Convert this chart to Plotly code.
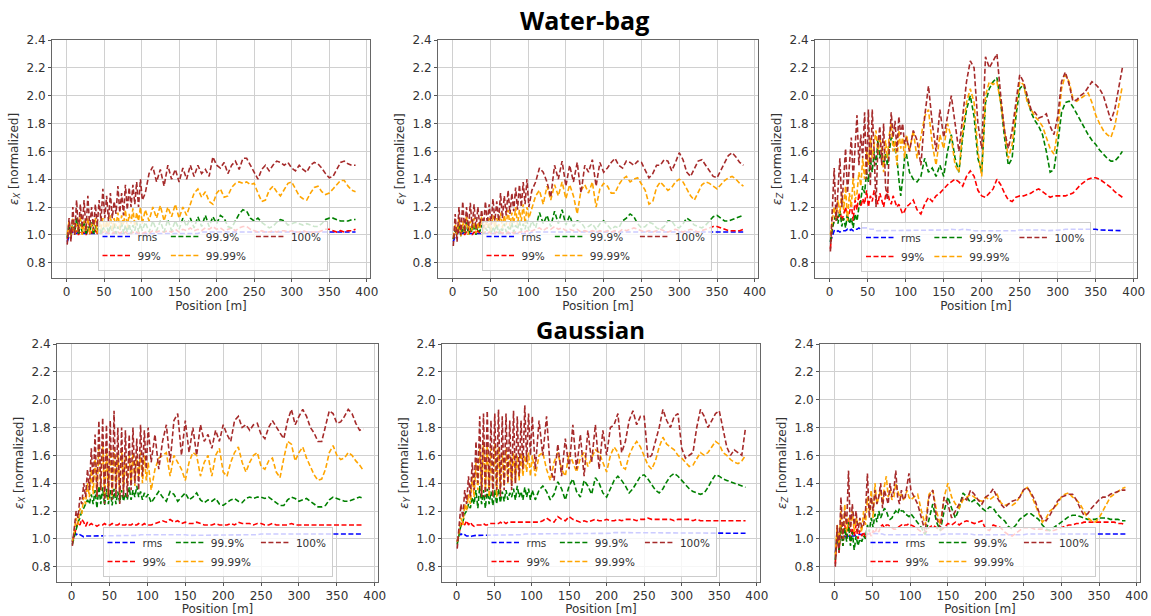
import plotly.graph_objects as go

# ---------------- data ----------------
POSITION = [1, 3.5, 6, 8.5, 11, 13.5, 16, 18.5, 21, 23.5,
            26, 28.5, 31, 33.5, 36, 38.5, 41, 43.5, 46, 48.5,
            51, 53.5, 56, 58.5, 61, 63.5, 66, 68.5, 71, 73.5,
            76, 78.5, 81, 83.5, 86, 88.5, 91, 93.5, 96, 98.5,
            101,
            105, 110, 115, 120, 125, 130, 135, 140, 145, 150,
            155, 160, 165, 170, 175, 180, 185, 190, 195, 200,
            205, 210, 215, 220, 225, 230, 235, 240, 245, 250,
            255, 260, 265, 270, 275, 280, 285, 290, 295, 300,
            305, 310, 315, 320, 325, 330, 335, 340, 345, 350,
            355, 360, 365, 370, 375, 380, 385]

SERIES_NAMES = ["rms", "99%", "99.9%", "99.99%", "100%"]
X_TICKS = [0, 50, 100, 150, 200, 250, 300, 350, 400]
Y_TICKS = [0.8, 1.0, 1.2, 1.4, 1.6, 1.8, 2.0, 2.2, 2.4]
ROW_TITLES = ["Water-bag", "Gaussian"]

# ---- Water-bag, eps_X ----
WB_X_RMS = [0.95, 0.99, 1.01, 1.02, 1.01, 1.01, 1.02, 1.01, 1.01, 1.01,
            1.01, 1.01, 1.01, 1.01, 1.01, 1.01, 1.01, 1.01, 1.01, 1.01,
            1.01, 1.01, 1.01, 1.01, 1.01, 1.01, 1.01, 1.01, 1.01, 1.01,
            1.01, 1.01, 1.01, 1.01, 1.01, 1.01, 1.01, 1.01, 1.01, 1.01,
            1.01,
            1.01, 1.01, 1.01, 1.01, 1.01, 1.01, 1.01, 1.01, 1.01, 1.01,
            1.01, 1.01, 1.01, 1.01, 1.01, 1.02, 1.02, 1.02, 1.02, 1.02,
            1.02, 1.02, 1.02, 1.02, 1.02, 1.02, 1.02, 1.02, 1.02, 1.02,
            1.02, 1.02, 1.02, 1.02, 1.02, 1.02, 1.02, 1.02, 1.02, 1.02,
            1.02, 1.02, 1.02, 1.02, 1.02, 1.02, 1.02, 1.02, 1.02, 1.02,
            1.02, 1.02, 1.02, 1.02, 1.02, 1.02, 1.02]
WB_X_99 = [0.97, 1.03, 1.0, 1.04, 1.01, 1.03, 1.0, 1.03, 1.01, 1.02,
           1.0, 1.03, 1.01, 1.02, 1.01, 1.03, 1.01, 1.02, 1.01, 1.02,
           1.01, 1.02, 1.01, 1.02, 1.01, 1.02, 1.01, 1.02, 1.01, 1.02,
           1.01, 1.02, 1.01, 1.02, 1.01, 1.02, 1.01, 1.02, 1.01, 1.02,
           1.01,
           1.02, 1.01, 1.03, 1.02, 1.03, 1.02, 1.03, 1.02, 1.04, 1.02,
           1.04, 1.03, 1.05, 1.03, 1.04, 1.03, 1.05, 1.04, 1.06, 1.04,
           1.05, 1.03, 1.04, 1.05, 1.03, 1.05, 1.06, 1.06, 1.04, 1.03,
           1.02, 1.03, 1.02, 1.02, 1.03, 1.02, 1.03, 1.03, 1.02, 1.03,
           1.02, 1.02, 1.03, 1.02, 1.02, 1.02, 1.02, 1.03, 1.04, 1.04,
           1.03, 1.02, 1.03, 1.02, 1.03, 1.03, 1.04]
WB_X_999 = [0.98, 1.08, 1.0, 1.1, 1.02, 1.12, 1.0, 1.08, 1.02, 1.1,
            1.0, 1.06, 1.02, 1.09, 1.0, 1.07, 1.02, 1.08, 1.0, 1.06,
            1.03, 1.08, 1.01, 1.07, 1.02, 1.08, 1.01, 1.06, 1.03, 1.09,
            1.01, 1.07, 1.02, 1.08, 1.01, 1.07, 1.03, 1.09, 1.02, 1.08,
            1.03,
            1.09, 1.02, 1.1, 1.03, 1.1, 1.02, 1.11, 1.03, 1.1, 1.04,
            1.12, 1.06, 1.12, 1.05, 1.13, 1.06, 1.14, 1.06, 1.13, 1.08,
            1.14, 1.12, 1.06, 1.05, 1.1, 1.15, 1.18, 1.17, 1.12, 1.1,
            1.12, 1.09, 1.07, 1.05, 1.06, 1.09, 1.11, 1.1, 1.07, 1.08,
            1.09, 1.08, 1.07, 1.08, 1.07, 1.06, 1.06, 1.08, 1.11, 1.12,
            1.12, 1.11, 1.1, 1.1, 1.1, 1.11, 1.11]
WB_X_9999 = [1.0, 1.1, 0.98, 1.12, 1.0, 1.08, 1.02, 1.14, 1.0, 1.1,
             1.02, 1.12, 1.0, 1.08, 1.03, 1.12, 1.01, 1.1, 1.04, 1.12,
             1.02, 1.1, 1.05, 1.14, 1.03, 1.12, 1.06, 1.16, 1.04, 1.14,
             1.07, 1.18, 1.05, 1.15, 1.08, 1.19, 1.06, 1.16, 1.1, 1.2,
             1.08,
             1.18, 1.1, 1.2, 1.12, 1.21, 1.1, 1.2, 1.13, 1.22, 1.12,
             1.2, 1.14, 1.22, 1.3, 1.33, 1.27, 1.31, 1.24, 1.22, 1.3,
             1.33, 1.27, 1.28, 1.34, 1.37, 1.38, 1.37, 1.38, 1.36, 1.37,
             1.3, 1.24, 1.25, 1.32, 1.35, 1.31, 1.28, 1.33, 1.37, 1.38,
             1.33, 1.28, 1.26, 1.25, 1.3, 1.34, 1.35, 1.31, 1.29, 1.3,
             1.33, 1.36, 1.39, 1.39, 1.35, 1.32, 1.31]
WB_X_100 = [0.93, 1.12, 0.95, 1.2, 1.0, 1.25, 1.02, 1.22, 1.05, 1.25,
            1.03, 1.28, 1.05, 1.2, 1.04, 1.22, 1.06, 1.25, 1.1, 1.33,
            1.12, 1.28, 1.1, 1.3, 1.12, 1.24, 1.15, 1.35, 1.16, 1.3,
            1.14, 1.36, 1.18, 1.34, 1.2, 1.36, 1.22, 1.38, 1.2, 1.4,
            1.25,
            1.3, 1.44, 1.49, 1.38, 1.47, 1.35, 1.5, 1.4, 1.47, 1.38,
            1.48, 1.4, 1.5, 1.42, 1.5, 1.44, 1.47, 1.42, 1.56, 1.5,
            1.48, 1.52, 1.44, 1.5, 1.53, 1.47, 1.55, 1.55, 1.5, 1.46,
            1.4, 1.47, 1.5, 1.46, 1.5, 1.53, 1.52, 1.5, 1.52, 1.48,
            1.46, 1.5, 1.47, 1.45, 1.5, 1.52, 1.51, 1.48, 1.44, 1.41,
            1.42, 1.47, 1.52, 1.53, 1.51, 1.5, 1.5]

# ---- Water-bag, eps_Y ----
WB_Y_RMS = [0.95, 0.99, 1.01, 1.02, 1.01, 1.01, 1.02, 1.01, 1.01, 1.01,
            1.01, 1.01, 1.01, 1.01, 1.01, 1.01, 1.01, 1.01, 1.01, 1.01,
            1.01, 1.01, 1.01, 1.01, 1.01, 1.01, 1.01, 1.01, 1.01, 1.01,
            1.01, 1.01, 1.01, 1.01, 1.01, 1.01, 1.01, 1.01, 1.01, 1.01,
            1.01,
            1.02, 1.02, 1.02, 1.02, 1.02, 1.02, 1.02, 1.02, 1.02, 1.02,
            1.02, 1.02, 1.02, 1.02, 1.02, 1.02, 1.02, 1.02, 1.02, 1.02,
            1.02, 1.02, 1.02, 1.02, 1.02, 1.02, 1.02, 1.02, 1.02, 1.02,
            1.02, 1.02, 1.02, 1.02, 1.02, 1.02, 1.02, 1.02, 1.02, 1.02,
            1.02, 1.02, 1.02, 1.02, 1.02, 1.02, 1.02, 1.02, 1.02, 1.02,
            1.02, 1.02, 1.02, 1.02, 1.02, 1.02, 1.02]
WB_Y_99 = [0.97, 1.03, 1.0, 1.04, 1.01, 1.03, 1.0, 1.02, 1.01, 1.03,
           1.0, 1.02, 1.01, 1.03, 1.01, 1.02, 1.01, 1.02, 1.01, 1.02,
           1.01, 1.02, 1.01, 1.02, 1.01, 1.02, 1.01, 1.02, 1.01, 1.02,
           1.01, 1.02, 1.01, 1.02, 1.01, 1.02, 1.02, 1.03, 1.02, 1.03,
           1.02,
           1.03, 1.04, 1.05, 1.03, 1.05, 1.04, 1.06, 1.04, 1.05, 1.03,
           1.04, 1.03, 1.04, 1.02, 1.03, 1.02, 1.03, 1.02, 1.03, 1.02,
           1.03, 1.02, 1.03, 1.02, 1.04, 1.03, 1.04, 1.05, 1.04, 1.03,
           1.02, 1.03, 1.02, 1.03, 1.04, 1.03, 1.02, 1.03, 1.04, 1.03,
           1.02, 1.03, 1.04, 1.03, 1.02, 1.03, 1.04, 1.05, 1.06, 1.06,
           1.05, 1.04, 1.03, 1.03, 1.03, 1.03, 1.04]
WB_Y_999 = [0.97, 1.05, 1.0, 1.08, 0.99, 1.06, 1.01, 1.09, 1.0, 1.05,
            1.02, 1.08, 1.0, 1.06, 1.02, 1.07, 1.01, 1.05, 1.03, 1.08,
            1.01, 1.06, 1.02, 1.08, 1.01, 1.05, 1.03, 1.08, 1.02, 1.06,
            1.03, 1.09, 1.02, 1.07, 1.04, 1.1, 1.03, 1.08, 1.04, 1.1,
            1.03,
            1.1, 1.05, 1.16, 1.08, 1.14, 1.06, 1.17, 1.08, 1.18, 1.07,
            1.14, 1.06, 1.1, 1.09, 1.05, 1.06, 1.08, 1.04, 1.08, 1.1,
            1.07, 1.04, 1.06, 1.05, 1.1, 1.12, 1.15, 1.13, 1.08, 1.05,
            1.06, 1.09, 1.08, 1.05, 1.04, 1.06, 1.1, 1.1, 1.06, 1.05,
            1.08, 1.12, 1.1, 1.07, 1.06, 1.05, 1.07, 1.1, 1.13, 1.14,
            1.12, 1.1, 1.1, 1.11, 1.12, 1.13, 1.14]
WB_Y_9999 = [0.98, 1.08, 1.0, 1.12, 0.99, 1.1, 1.02, 1.14, 1.0, 1.1,
             1.03, 1.12, 1.01, 1.09, 1.04, 1.13, 1.02, 1.1, 1.05, 1.12,
             1.03, 1.14, 1.05, 1.12, 1.06, 1.16, 1.05, 1.14, 1.07, 1.18,
             1.06, 1.16, 1.08, 1.2, 1.07, 1.18, 1.1, 1.22, 1.08, 1.2,
             1.12,
             1.2, 1.28, 1.32, 1.22, 1.35, 1.25, 1.36, 1.28, 1.38, 1.26,
             1.36, 1.28, 1.15, 1.32, 1.36, 1.3, 1.38, 1.2, 1.33, 1.37,
             1.35, 1.3, 1.3, 1.36, 1.4, 1.42, 1.38, 1.4, 1.41, 1.36,
             1.32, 1.22, 1.24, 1.34, 1.38, 1.35, 1.32, 1.34, 1.38, 1.4,
             1.38, 1.33, 1.28, 1.25, 1.3, 1.36, 1.38, 1.37, 1.35, 1.33,
             1.36, 1.39, 1.41, 1.42, 1.4, 1.37, 1.35]
WB_Y_100 = [0.92, 1.15, 0.95, 1.2, 1.0, 1.24, 1.02, 1.2, 1.03, 1.23,
            1.05, 1.22, 1.04, 1.2, 1.06, 1.18, 1.05, 1.24, 1.08, 1.22,
            1.07, 1.26, 1.1, 1.24, 1.1, 1.3, 1.12, 1.28, 1.14, 1.32,
            1.15, 1.3, 1.17, 1.34, 1.18, 1.36, 1.2, 1.38, 1.22, 1.4,
            1.2,
            1.32, 1.38, 1.48, 1.45, 1.38, 1.27, 1.5, 1.4, 1.53, 1.35,
            1.5, 1.38, 1.52, 1.3, 1.5, 1.45, 1.54, 1.35, 1.52, 1.45,
            1.48, 1.52, 1.55, 1.5, 1.48, 1.53, 1.52, 1.5, 1.53, 1.52,
            1.46, 1.41, 1.44, 1.5, 1.5, 1.54, 1.53, 1.46, 1.52, 1.59,
            1.54, 1.45, 1.42, 1.47, 1.53, 1.54, 1.5, 1.46, 1.42, 1.41,
            1.46, 1.52, 1.57, 1.59, 1.56, 1.52, 1.5]

# ---- Water-bag, eps_Z ----
WB_Z_RMS = [0.95, 1.0, 1.03, 1.02, 1.03, 1.02, 1.03, 1.03, 1.03, 1.04,
            1.03, 1.04, 1.03, 1.04, 1.04, 1.05, 1.04, 1.05, 1.05, 1.05,
            1.05, 1.04, 1.04, 1.04, 1.03, 1.03, 1.03, 1.03, 1.03, 1.03,
            1.03, 1.03, 1.03, 1.03, 1.03, 1.03, 1.03, 1.03, 1.03, 1.03,
            1.03,
            1.03, 1.03, 1.03, 1.03, 1.03, 1.03, 1.03, 1.03, 1.035, 1.035,
            1.035, 1.04, 1.035, 1.035, 1.04, 1.04, 1.035, 1.03, 1.03, 1.025,
            1.03, 1.03, 1.03, 1.03, 1.03, 1.025, 1.03, 1.03, 1.03, 1.035,
            1.035, 1.04, 1.04, 1.04, 1.035, 1.035, 1.03, 1.03, 1.03, 1.035,
            1.035, 1.04, 1.04, 1.04, 1.045, 1.045, 1.045, 1.04, 1.04, 1.04,
            1.035, 1.035, 1.03, 1.03, 1.03, 1.03, 1.03]
WB_Z_99 = [0.9, 1.05, 1.1, 1.15, 1.12, 1.18, 1.1, 1.15, 1.2, 1.12,
           1.16, 1.22, 1.1, 1.25, 1.18, 1.3, 1.2, 1.26, 1.22, 1.32,
           1.2, 1.28, 1.24, 1.32, 1.26, 1.22, 1.3, 1.25, 1.2, 1.28,
           1.32, 1.25, 1.22, 1.28, 1.24, 1.2, 1.22, 1.18, 1.15, 1.17,
           1.2,
           1.22, 1.25, 1.18, 1.15, 1.22, 1.27, 1.24, 1.28, 1.3, 1.33,
           1.36, 1.38, 1.4, 1.38, 1.35, 1.42, 1.46, 1.42, 1.32, 1.28,
           1.27, 1.3, 1.33, 1.4, 1.36, 1.3, 1.25, 1.24, 1.27, 1.28,
           1.28, 1.29, 1.3, 1.32, 1.33, 1.31, 1.29, 1.27, 1.28, 1.28,
           1.28, 1.28, 1.29, 1.3, 1.33, 1.36, 1.38, 1.4, 1.41, 1.41,
           1.4, 1.38, 1.36, 1.34, 1.31, 1.29, 1.27]
WB_Z_999 = [0.95, 1.05, 1.1, 1.15, 1.08, 1.18, 1.06, 1.12, 1.05, 1.15,
            1.08, 1.12, 1.05, 1.15, 1.1, 1.2, 1.25, 1.35, 1.3, 1.45,
            1.38, 1.55, 1.45, 1.6, 1.5, 1.68, 1.55, 1.62, 1.5, 1.58,
            1.5, 1.6, 1.7, 1.68, 1.62, 1.55, 1.4, 1.28, 1.4, 1.55,
            1.58,
            1.45, 1.4, 1.38, 1.42, 1.55, 1.45, 1.48, 1.42, 1.5, 1.42,
            1.6, 1.72, 1.55, 1.45, 1.7, 1.9, 2.0, 1.85, 1.55, 1.45,
            1.95, 2.05, 2.1, 2.13, 1.95, 1.7, 1.5, 1.55, 1.85, 2.05,
            2.08, 1.98, 1.88, 1.82, 1.78, 1.72, 1.6, 1.45, 1.47, 1.65,
            1.88, 1.95, 1.96, 1.92, 1.87, 1.82, 1.76, 1.72, 1.68, 1.65,
            1.61, 1.58, 1.55, 1.53, 1.53, 1.56, 1.6]
WB_Z_9999 = [1.0, 1.1, 1.2, 1.12, 1.25, 1.15, 1.3, 1.18, 1.35, 1.1,
             1.3, 1.2, 1.42, 1.25, 1.3, 1.45, 1.35, 1.55, 1.4, 1.6,
             1.5, 1.7, 1.55, 1.65, 1.75, 1.58, 1.7, 1.62, 1.45, 1.68,
             1.55, 1.72, 1.8, 1.6, 1.68, 1.5, 1.75, 1.62, 1.7, 1.55,
             1.72,
             1.6, 1.75, 1.55, 1.7, 1.85, 1.9, 1.65, 1.5, 1.72, 1.62,
             1.8, 1.7, 1.5, 1.45, 1.75, 1.95, 2.05, 1.95, 1.6, 1.42,
             2.0, 2.1, 2.08, 2.1, 1.95, 1.75, 1.55, 1.65, 1.9, 2.1,
             2.08, 1.95, 1.9, 1.85, 1.82, 1.78, 1.7, 1.62, 1.58, 1.75,
             2.05, 2.15, 2.1, 1.98, 1.96, 1.98, 2.0, 2.02, 1.95, 1.86,
             1.8, 1.75, 1.72, 1.7, 1.78, 1.92, 2.07]
WB_Z_100 = [0.88, 1.2, 1.48, 1.1, 1.35, 1.55, 1.2, 1.45, 1.62, 1.3,
            1.5, 1.7, 1.4, 1.65, 1.86, 1.5, 1.72, 1.55, 1.88, 1.4,
            1.9, 1.35, 1.9, 1.6, 1.2, 1.65, 1.78, 1.5, 1.8, 1.35,
            1.25, 1.65, 1.88, 1.7, 1.82, 1.6, 1.85, 1.72, 1.8, 1.65,
            1.7,
            1.6, 1.75, 1.68, 1.5, 1.85, 2.07, 1.8, 1.6, 1.9, 1.7,
            1.85, 2.0, 1.8, 1.6, 1.85, 2.1, 2.25, 2.2, 1.8, 1.62,
            2.28, 2.2, 2.25, 2.3, 2.0, 1.75, 1.62, 1.75, 1.95, 2.15,
            2.1, 2.0, 1.9, 1.88, 1.84, 1.85, 1.87, 1.78, 1.72, 1.85,
            2.1, 2.17, 2.08, 1.96, 1.97, 2.0, 2.02, 2.06, 2.1, 2.08,
            2.05, 2.0, 1.9, 1.82, 1.9, 2.05, 2.2]

# ---- Gaussian, eps_X ----
GA_X_RMS = [0.98, 1.04, 1.03, 1.04, 1.03, 1.02, 1.015, 1.02, 1.02, 1.025,
            1.025, 1.025, 1.025, 1.025, 1.025, 1.025, 1.025, 1.025, 1.025, 1.025,
            1.025, 1.025, 1.025, 1.025, 1.025, 1.025, 1.025, 1.025, 1.025, 1.025,
            1.025, 1.025, 1.025, 1.025, 1.025, 1.025, 1.03, 1.03, 1.03, 1.03,
            1.03,
            1.03, 1.03, 1.03, 1.035, 1.035, 1.035, 1.03, 1.03, 1.03, 1.03,
            1.025, 1.025, 1.025, 1.025, 1.025, 1.025, 1.03, 1.03, 1.03, 1.03,
            1.03, 1.03, 1.03, 1.03, 1.03, 1.03, 1.03, 1.03, 1.03, 1.035,
            1.035, 1.035, 1.03, 1.03, 1.03, 1.03, 1.03, 1.03, 1.03, 1.03,
            1.03, 1.03, 1.03, 1.03, 1.03, 1.03, 1.03, 1.03, 1.03, 1.03,
            1.035, 1.035, 1.035, 1.035, 1.035, 1.035, 1.035]
GA_X_99 = [0.98, 1.02, 1.08, 1.12, 1.1, 1.14, 1.12, 1.09, 1.12, 1.1,
           1.11, 1.1, 1.1, 1.09, 1.1, 1.1, 1.1, 1.11, 1.1, 1.1,
           1.1, 1.11, 1.1, 1.1, 1.1, 1.11, 1.1, 1.1, 1.1, 1.11,
           1.1, 1.1, 1.11, 1.1, 1.1, 1.11, 1.1, 1.1, 1.11, 1.1,
           1.1,
           1.1, 1.11, 1.12, 1.13, 1.12, 1.14, 1.12, 1.13, 1.11, 1.12,
           1.11, 1.11, 1.12, 1.11, 1.1, 1.1, 1.1, 1.11, 1.1, 1.1,
           1.1, 1.11, 1.1, 1.12, 1.11, 1.11, 1.11, 1.1, 1.11, 1.11,
           1.1, 1.1, 1.11, 1.1, 1.1, 1.1, 1.1, 1.11, 1.1, 1.1,
           1.1, 1.1, 1.1, 1.1, 1.1, 1.1, 1.1, 1.1, 1.1, 1.1,
           1.1, 1.1, 1.1, 1.1, 1.1, 1.1, 1.1]
GA_X_999 = [0.96, 1.02, 1.08, 1.12, 1.15, 1.2, 1.22, 1.25, 1.28, 1.25,
            1.32, 1.25, 1.35, 1.22, 1.38, 1.25, 1.37, 1.24, 1.36, 1.25,
            1.35, 1.24, 1.36, 1.25, 1.34, 1.26, 1.35, 1.27, 1.33, 1.28,
            1.37, 1.28, 1.35, 1.3, 1.38, 1.3, 1.34, 1.28, 1.33, 1.3,
            1.32,
            1.26, 1.3, 1.34, 1.3, 1.27, 1.34, 1.32, 1.27, 1.3, 1.33,
            1.28, 1.3, 1.33, 1.28, 1.26, 1.28, 1.27, 1.29, 1.25, 1.24,
            1.26, 1.28, 1.29, 1.27, 1.26, 1.29, 1.3, 1.29, 1.3, 1.3,
            1.29, 1.3, 1.28, 1.26, 1.24, 1.24, 1.28, 1.3, 1.29, 1.27,
            1.28, 1.29, 1.27, 1.25, 1.23, 1.23, 1.24, 1.28, 1.3, 1.29,
            1.28, 1.27, 1.27, 1.28, 1.29, 1.3, 1.29]
GA_X_9999 = [0.98, 1.05, 1.15, 1.1, 1.22, 1.18, 1.3, 1.25, 1.4, 1.3,
             1.5, 1.32, 1.6, 1.3, 1.68, 1.35, 1.7, 1.3, 1.65, 1.28,
             1.68, 1.3, 1.65, 1.35, 1.62, 1.32, 1.65, 1.35, 1.6, 1.38,
             1.6, 1.4, 1.62, 1.38, 1.6, 1.45, 1.62, 1.4, 1.6, 1.42,
             1.55,
             1.35, 1.5, 1.58, 1.6, 1.62, 1.45, 1.6, 1.55, 1.5, 1.42,
             1.55, 1.62, 1.6, 1.45, 1.55, 1.6, 1.45, 1.6, 1.65, 1.48,
             1.45, 1.55, 1.62, 1.66, 1.55, 1.48, 1.55, 1.6, 1.62, 1.52,
             1.5, 1.56, 1.58, 1.48, 1.44, 1.58, 1.7, 1.68, 1.56, 1.62,
             1.66, 1.58, 1.52, 1.46, 1.42, 1.43, 1.5, 1.62, 1.67, 1.6,
             1.57, 1.58, 1.62, 1.6, 1.56, 1.53, 1.49]
GA_X_100 = [0.95, 1.1, 1.2, 1.15, 1.3, 1.25, 1.4, 1.3, 1.5, 1.35,
            1.65, 1.4, 1.75, 1.3, 1.85, 1.35, 1.87, 1.25, 1.82, 1.3,
            1.85, 1.28, 1.92, 1.3, 1.8, 1.25, 1.8, 1.3, 1.78, 1.3,
            1.75, 1.35, 1.8, 1.4, 1.72, 1.35, 1.82, 1.45, 1.78, 1.5,
            1.8,
            1.55, 1.75, 1.5, 1.7, 1.82, 1.55, 1.85, 1.9, 1.6, 1.85,
            1.62, 1.8, 1.6, 1.82, 1.7, 1.75, 1.65, 1.78, 1.7, 1.82,
            1.75, 1.7, 1.85, 1.88, 1.8, 1.82, 1.78, 1.82, 1.83, 1.75,
            1.72, 1.8, 1.85, 1.8, 1.76, 1.72, 1.85, 1.93, 1.82, 1.88,
            1.93, 1.88, 1.8, 1.76, 1.7, 1.7, 1.8, 1.92, 1.9, 1.83,
            1.84, 1.88, 1.93, 1.9, 1.83, 1.78, 1.79]

# ---- Gaussian, eps_Y ----
GA_Y_RMS = [0.98, 1.04, 1.03, 1.04, 1.03, 1.02, 1.02, 1.015, 1.02, 1.025,
            1.025, 1.025, 1.025, 1.025, 1.025, 1.025, 1.025, 1.025, 1.03, 1.03,
            1.03, 1.03, 1.03, 1.03, 1.03, 1.03, 1.03, 1.03, 1.03, 1.03,
            1.03, 1.03, 1.03, 1.03, 1.03, 1.03, 1.035, 1.035, 1.035, 1.035,
            1.035,
            1.035, 1.035, 1.04, 1.04, 1.035, 1.04, 1.04, 1.035, 1.035, 1.035,
            1.035, 1.035, 1.035, 1.04, 1.04, 1.04, 1.04, 1.04, 1.04, 1.04,
            1.04, 1.045, 1.045, 1.04, 1.04, 1.045, 1.045, 1.045, 1.045, 1.045,
            1.045, 1.045, 1.04, 1.04, 1.04, 1.04, 1.04, 1.04, 1.04, 1.04,
            1.04, 1.04, 1.04, 1.04, 1.04, 1.04, 1.04, 1.04, 1.04, 1.04,
            1.04, 1.04, 1.04, 1.04, 1.04, 1.04, 1.04]
GA_Y_99 = [0.98, 1.03, 1.1, 1.12, 1.1, 1.13, 1.1, 1.12, 1.1, 1.09,
           1.1, 1.1, 1.1, 1.1, 1.11, 1.1, 1.1, 1.11, 1.11, 1.11,
           1.11, 1.11, 1.11, 1.12, 1.11, 1.12, 1.11, 1.12, 1.12, 1.12,
           1.12, 1.12, 1.12, 1.12, 1.12, 1.12, 1.12, 1.12, 1.12, 1.12,
           1.12,
           1.12, 1.12, 1.13, 1.15, 1.13, 1.12, 1.16, 1.14, 1.13, 1.16,
           1.14, 1.13, 1.12, 1.13, 1.12, 1.13, 1.14, 1.13, 1.13, 1.14,
           1.13, 1.13, 1.14, 1.13, 1.14, 1.14, 1.14, 1.13, 1.14, 1.14,
           1.15, 1.14, 1.14, 1.14, 1.14, 1.14, 1.14, 1.13, 1.14, 1.14,
           1.14, 1.14, 1.13, 1.14, 1.13, 1.13, 1.13, 1.13, 1.13, 1.13,
           1.13, 1.13, 1.13, 1.13, 1.13, 1.13, 1.13]
GA_Y_999 = [0.96, 1.03, 1.1, 1.12, 1.18, 1.2, 1.25, 1.22, 1.3, 1.25,
            1.35, 1.22, 1.38, 1.25, 1.35, 1.22, 1.36, 1.25, 1.34, 1.24,
            1.35, 1.25, 1.36, 1.26, 1.34, 1.27, 1.35, 1.28, 1.33, 1.3,
            1.36, 1.28, 1.38, 1.3, 1.34, 1.28, 1.37, 1.3, 1.36, 1.28,
            1.35,
            1.28, 1.35, 1.38, 1.34, 1.28, 1.32, 1.41, 1.36, 1.28, 1.38,
            1.43, 1.34, 1.3, 1.42, 1.38, 1.32, 1.44, 1.4, 1.33, 1.3,
            1.36, 1.42, 1.45, 1.42, 1.38, 1.33, 1.36, 1.41, 1.45, 1.46,
            1.43, 1.39, 1.35, 1.33, 1.36, 1.41, 1.45, 1.47, 1.45, 1.42,
            1.39, 1.36, 1.34, 1.33, 1.32, 1.33, 1.37, 1.42, 1.46, 1.45,
            1.43, 1.42, 1.41, 1.4, 1.39, 1.38, 1.37]
GA_Y_9999 = [0.98, 1.05, 1.15, 1.1, 1.25, 1.2, 1.32, 1.25, 1.45, 1.3,
             1.55, 1.35, 1.65, 1.32, 1.7, 1.35, 1.68, 1.3, 1.65, 1.35,
             1.68, 1.3, 1.66, 1.35, 1.62, 1.38, 1.65, 1.4, 1.6, 1.38,
             1.62, 1.4, 1.6, 1.42, 1.62, 1.45, 1.6, 1.48, 1.62, 1.45,
             1.6,
             1.45, 1.6, 1.62, 1.5, 1.42, 1.55, 1.62, 1.5, 1.45, 1.62,
             1.55, 1.48, 1.58, 1.62, 1.52, 1.58, 1.64, 1.62, 1.55, 1.48,
             1.6, 1.66, 1.62, 1.52, 1.5, 1.6, 1.66, 1.7, 1.66, 1.6,
             1.53, 1.5, 1.56, 1.66, 1.73, 1.68, 1.66, 1.64, 1.6, 1.58,
             1.55, 1.52, 1.53, 1.58, 1.62, 1.6, 1.62, 1.66, 1.7, 1.68,
             1.62, 1.6, 1.57, 1.55, 1.54, 1.56, 1.6]
GA_Y_100 = [0.93, 1.1, 1.25, 1.15, 1.35, 1.25, 1.45, 1.3, 1.55, 1.35,
            1.7, 1.4, 1.88, 1.3, 1.9, 1.3, 1.92, 1.35, 1.85, 1.3,
            1.9, 1.35, 1.93, 1.3, 1.88, 1.35, 1.9, 1.4, 1.85, 1.35,
            1.92, 1.4, 1.88, 1.45, 1.85, 1.5, 1.96, 1.55, 1.9, 1.6,
            1.88,
            1.5, 1.85, 1.6, 1.88, 1.5, 1.42, 1.68, 1.45, 1.72, 1.5,
            1.82, 1.5, 1.75, 1.45, 1.78, 1.55, 1.82, 1.5, 1.78, 1.6,
            1.8, 1.82, 1.9, 1.62, 1.7, 1.85, 1.92, 1.82, 1.88, 1.88,
            1.58, 1.6, 1.7, 1.8, 1.93, 1.85, 1.8, 1.88, 1.9, 1.65,
            1.58, 1.6, 1.62, 1.8, 1.93, 1.88, 1.8, 1.85, 1.9, 1.92,
            1.8, 1.66, 1.6, 1.64, 1.62, 1.6, 1.8]

# ---- Gaussian, eps_Z ----
GA_Z_RMS = [0.9, 1.0, 0.98, 1.02, 1.0, 1.02, 1.01, 1.02, 1.02, 1.02,
            1.02, 1.03, 1.03, 1.03, 1.03, 1.03, 1.035, 1.035, 1.035, 1.04,
            1.04, 1.04, 1.04, 1.035, 1.035, 1.035, 1.03, 1.03, 1.03, 1.03,
            1.03, 1.03, 1.03, 1.03, 1.03, 1.03, 1.03, 1.03, 1.03, 1.03,
            1.03,
            1.03, 1.03, 1.025, 1.025, 1.03, 1.03, 1.03, 1.03, 1.035, 1.035,
            1.035, 1.035, 1.035, 1.04, 1.035, 1.035, 1.03, 1.03, 1.025, 1.025,
            1.025, 1.03, 1.03, 1.03, 1.03, 1.03, 1.03, 1.03, 1.03, 1.03,
            1.035, 1.035, 1.035, 1.035, 1.035, 1.035, 1.035, 1.035, 1.035, 1.035,
            1.035, 1.035, 1.035, 1.04, 1.04, 1.04, 1.04, 1.04, 1.04, 1.04,
            1.035, 1.035, 1.035, 1.035, 1.035, 1.035, 1.035]
GA_Z_99 = [0.82, 1.05, 0.9, 1.12, 0.95, 1.1, 1.0, 1.15, 0.98, 1.08,
           1.02, 1.1, 1.0, 1.06, 1.02, 1.05, 1.0, 1.04, 1.05, 1.02,
           1.06, 1.04, 1.08, 1.05, 1.09, 1.1, 1.08, 1.1, 1.1, 1.09,
           1.08, 1.07, 1.07, 1.08, 1.09, 1.1, 1.09, 1.1, 1.1, 1.11,
           1.1,
           1.09, 1.07, 1.05, 1.04, 1.08, 1.1, 1.08, 1.06, 1.08, 1.11,
           1.1, 1.12, 1.1, 1.12, 1.13, 1.12, 1.11, 1.12, 1.13, 1.07,
           1.06, 1.1, 1.09, 1.08, 1.05, 1.03, 1.02, 1.04, 1.06, 1.08,
           1.08, 1.08, 1.07, 1.07, 1.07, 1.06, 1.06, 1.06, 1.07, 1.08,
           1.09, 1.1, 1.1, 1.11, 1.11, 1.12, 1.12, 1.12, 1.12, 1.12,
           1.12, 1.12, 1.12, 1.12, 1.11, 1.11, 1.1]
GA_Z_999 = [0.85, 1.05, 0.92, 1.1, 0.95, 1.08, 0.98, 1.12, 0.95, 1.05,
            0.92, 1.02, 0.95, 1.0, 0.98, 1.02, 1.0, 1.1, 1.05, 1.15,
            1.08, 1.18, 1.12, 1.2, 1.15, 1.18, 1.22, 1.2, 1.16, 1.14,
            1.15, 1.18, 1.2, 1.18, 1.22, 1.2, 1.2, 1.18, 1.17, 1.16,
            1.18,
            1.15, 1.12, 1.08, 1.03, 1.15, 1.25, 1.12, 1.06, 1.2, 1.3,
            1.22, 1.15, 1.22, 1.33, 1.3, 1.26, 1.28, 1.25, 1.22, 1.2,
            1.23, 1.22, 1.18, 1.15, 1.13, 1.09, 1.07, 1.1, 1.14, 1.16,
            1.18, 1.18, 1.16, 1.14, 1.1, 1.07, 1.06, 1.08, 1.1, 1.12,
            1.14, 1.16, 1.17, 1.17, 1.16, 1.15, 1.14, 1.14, 1.14, 1.15,
            1.15, 1.15, 1.14, 1.14, 1.14, 1.13, 1.13]
GA_Z_9999 = [0.88, 1.1, 0.95, 1.2, 1.0, 1.25, 1.05, 1.15, 1.1, 1.2,
             1.05, 1.15, 1.1, 1.12, 1.05, 1.2, 1.1, 1.3, 1.2, 1.35,
             1.15, 1.4, 1.25, 1.3, 1.35, 1.25, 1.38, 1.45, 1.3, 1.35,
             1.28, 1.3, 1.4, 1.35, 1.3, 1.32, 1.28, 1.3, 1.35, 1.3,
             1.28,
             1.3, 1.32, 1.2, 1.1, 1.32, 1.35, 1.2, 1.1, 1.3, 1.4,
             1.3, 1.25, 1.22, 1.28, 1.3, 1.32, 1.3, 1.28, 1.27, 1.3,
             1.28, 1.3, 1.32, 1.26, 1.24, 1.25, 1.24, 1.26, 1.3, 1.35,
             1.37, 1.32, 1.25, 1.18, 1.12, 1.15, 1.2, 1.22, 1.25, 1.3,
             1.32, 1.33, 1.3, 1.28, 1.25, 1.2, 1.15, 1.13, 1.12, 1.15,
             1.2, 1.25, 1.3, 1.32, 1.34, 1.36, 1.37]
GA_Z_100 = [0.8, 1.1, 0.9, 1.3, 1.0, 1.2, 1.1, 1.49, 1.05, 1.25,
            1.1, 1.2, 1.05, 1.15, 1.08, 1.1, 1.2, 1.47, 1.15, 1.3,
            1.2, 1.35, 1.25, 1.3, 1.4, 1.22, 1.35, 1.3, 1.25, 1.4,
            1.3, 1.35, 1.49, 1.3, 1.25, 1.35, 1.28, 1.3, 1.4, 1.47,
            1.35,
            1.3, 1.25, 1.15, 1.05, 1.3, 1.35, 1.15, 1.08, 1.3, 1.25,
            1.15, 1.2, 1.25, 1.3, 1.28, 1.35, 1.32, 1.28, 1.25, 1.3,
            1.32, 1.36, 1.3, 1.25, 1.22, 1.25, 1.27, 1.28, 1.3, 1.35,
            1.37, 1.33, 1.28, 1.2, 1.14, 1.13, 1.17, 1.22, 1.27, 1.3,
            1.31, 1.32, 1.32, 1.28, 1.22, 1.17, 1.18, 1.22, 1.25, 1.28,
            1.3, 1.3, 1.32, 1.33, 1.34, 1.35, 1.35]

# ---------------- styling ----------------
COLORS = ["#0000ff", "#ff0000", "#008000", "#ffa500", "#a52a2a"]
GROUPS = ["g1", "g1", "g2", "g2", "g3"]
W, H = 1151, 616
FONT = "DejaVu Sans"
TXT = "#333333"

panels = [
    dict(series=[WB_X_RMS, WB_X_99, WB_X_999, WB_X_9999, WB_X_100], sub="X",
         px=(52, 370), py=(40, 278), leg=(212.5, 271)),
    dict(series=[WB_Y_RMS, WB_Y_99, WB_Y_999, WB_Y_9999, WB_Y_100], sub="Y",
         px=(438, 758), py=(40, 278), leg=(596.5, 271)),
    dict(series=[WB_Z_RMS, WB_Z_99, WB_Z_999, WB_Z_9999, WB_Z_100], sub="Z",
         px=(815, 1137), py=(40, 278), leg=(976, 272)),
    dict(series=[GA_X_RMS, GA_X_99, GA_X_999, GA_X_9999, GA_X_100], sub="X",
         px=(57, 378), py=(344, 582), leg=(217.5, 577)),
    dict(series=[GA_Y_RMS, GA_Y_99, GA_Y_999, GA_Y_9999, GA_Y_100], sub="Y",
         px=(442, 760), py=(344, 582), leg=(601.5, 577)),
    dict(series=[GA_Z_RMS, GA_Z_99, GA_Z_999, GA_Z_9999, GA_Z_100], sub="Z",
         px=(820, 1140), py=(344, 582), leg=(980.5, 577)),
]

fig = go.Figure()
layout = dict(
    width=W, height=H,
    margin=dict(l=0, r=0, t=0, b=0),
    paper_bgcolor="white", plot_bgcolor="white",
    font=dict(family=FONT, size=12, color=TXT),
    showlegend=True,
)

for k, p in enumerate(panels, start=1):
    sfx = "" if k == 1 else str(k)
    legname = "legend" + sfx
    for name, color, grp, ys in zip(SERIES_NAMES, COLORS, GROUPS, p["series"]):
        assert len(ys) == len(POSITION), (k, name, len(ys))
        fig.add_trace(go.Scatter(
            x=POSITION, y=ys, mode="lines", name=name,
            line=dict(color=color, width=1.6, dash="5px,2.5px"),
            xaxis="x" + sfx, yaxis="y" + sfx,
            legend=legname, legendgroup=f"p{k}{grp}",
        ))
    x0, x1 = p["px"]
    y0, y1 = p["py"]
    axis_common = dict(
        showline=True, linecolor="#666666", linewidth=1, mirror=True,
        showgrid=True, gridcolor="#d0d0d0", gridwidth=1, zeroline=False,
        ticks="outside", ticklen=3, tickcolor="#555555",
        tickfont=dict(family=FONT, size=12, color=TXT),
        automargin=False,
    )
    layout["xaxis" + sfx] = dict(
        axis_common, domain=[x0 / W, x1 / W], anchor="y" + sfx,
        range=[-19.25, 404.25], tickvals=X_TICKS,
        title=dict(text="Position [m]", standoff=2,
                   font=dict(family=FONT, size=12, color=TXT)),
    )
    layout["yaxis" + sfx] = dict(
        axis_common, domain=[1 - y1 / H, 1 - y0 / H], anchor="x" + sfx,
        range=[0.69, 2.4], tickvals=Y_TICKS, tickformat=".1f",
        title=dict(text=f"<i>ε<sub>{p['sub']}</sub></i> [normalized]", standoff=5,
                   font=dict(family=FONT, size=12, color=TXT)),
    )
    lx, ly = p["leg"]
    layout[legname] = dict(
        x=lx / W, y=1 - ly / H, xanchor="center", yanchor="bottom",
        orientation="h", traceorder="grouped", tracegroupgap=0,
        bgcolor="rgba(255,255,255,0.8)", bordercolor="#cccccc", borderwidth=1,
        font=dict(family=FONT, size=10.5, color=TXT),
        itemwidth=30,
    )

layout["annotations"] = [
    dict(text=f"<b>{ROW_TITLES[0]}</b>", x=584 / W, y=1 - 20 / H, xref="paper", yref="paper",
         showarrow=False, font=dict(family="Open Sans", size=25, color="black"),
         xanchor="center", yanchor="middle"),
    dict(text=f"<b>{ROW_TITLES[1]}</b>", x=590 / W, y=1 - 329 / H, xref="paper", yref="paper",
         showarrow=False, font=dict(family="Open Sans", size=24, color="black"),
         xanchor="center", yanchor="middle"),
]

fig.update_layout(layout)
fig.write_html(
    "out.html",
    config={"displayModeBar": False},
    post_script="document.body.style.margin='0px';document.body.style.overflow='hidden';",
)
